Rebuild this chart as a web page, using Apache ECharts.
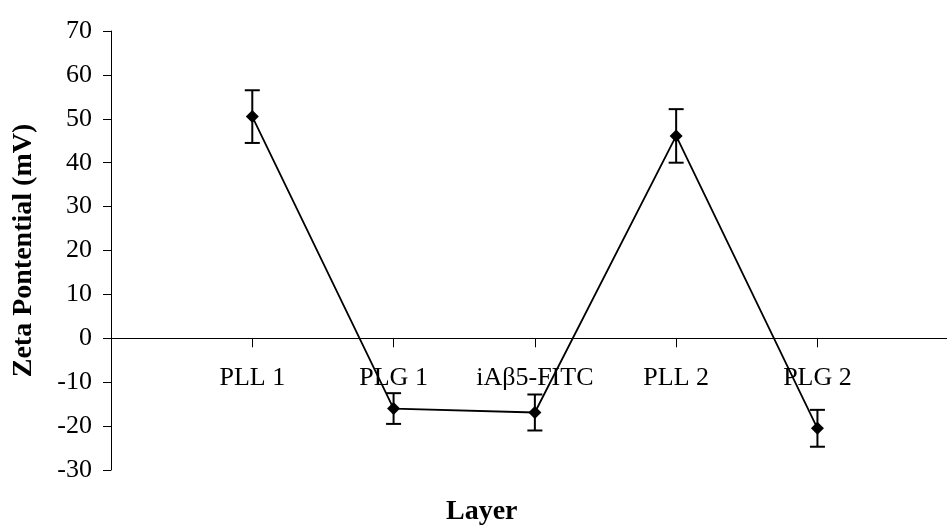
<!DOCTYPE html>
<html>
<head>
<meta charset="utf-8">
<script src="https://cdn.jsdelivr.net/npm/echarts@6/dist/echarts.min.js"></script>
<style>
  html, body { margin: 0; padding: 0; background: #fff; }
  #chart { width: 947px; height: 529px; }
</style>
</head>
<body>
<div id="chart"></div>
<script>
// Zeta potential after each deposited layer, with standard deviations
const layers = ['PLL 1', 'PLG 1', 'iAβ5-FITC', 'PLL 2', 'PLG 2'];
const zeta = [50.5, -16.0, -16.9, 46.1, -20.5];
const zetaErr = [6.0, 3.5, 4.1, 6.1, 4.2];
const yTicks = { min: -30, max: 70, step: 10 };

const FONT = '"Liberation Serif", "Times New Roman", serif';

// Grid geometry; the category axis runs along y = 0
const GRID = { left: 111, right: 0, top: 31, bottom: 59 };
const plotH = 529 - GRID.top - GRID.bottom;
const zeroOffset = -plotH * (0 - yTicks.min) / (yTicks.max - yTicks.min);

// Layers sit at positions 1..n on a numeric x scale
const points = layers.map((name, i) => [i + 1, zeta[i]]);
const errBars = layers.map((name, i) => [i + 1, zeta[i] - zetaErr[i], zeta[i] + zetaErr[i]]);
const layerPos = layers.map((name, i) => i + 1);

const chart = echarts.init(document.getElementById('chart'), null, { renderer: 'canvas' });

chart.setOption({
  animation: false,
  backgroundColor: '#ffffff',
  grid: GRID,
  xAxis: {
    type: 'value',
    min: 0,
    max: 5.917,
    interval: 1,
    offset: zeroOffset,
    splitLine: { show: false },
    axisLine: { onZero: false, lineStyle: { color: '#000', width: 1 } },
    axisTick: {
      show: true, length: 9, customValues: layerPos,
      lineStyle: { color: '#000', width: 1 }
    },
    axisLabel: {
      customValues: layerPos,
      margin: 27,
      color: '#000',
      fontFamily: FONT,
      fontSize: 26,
      formatter: v => layers[Math.round(v) - 1] || ''
    }
  },
  yAxis: {
    type: 'value',
    min: yTicks.min,
    max: yTicks.max,
    interval: yTicks.step,
    splitLine: { show: false },
    axisLine: { show: true, onZero: false, lineStyle: { color: '#000', width: 1 } },
    axisTick: { show: true, length: 8, lineStyle: { color: '#000', width: 1 } },
    axisLabel: { margin: 19, color: '#000', fontFamily: FONT, fontSize: 26 },
    name: 'Zeta Pontential (mV)',
    nameLocation: 'middle',
    nameGap: 73,
    nameTextStyle: { color: '#000', fontFamily: FONT, fontSize: 28, fontWeight: 'bold' }
  },
  graphic: [{
    type: 'text',
    left: 446,
    top: 498,
    style: { text: 'Layer', fill: '#000', font: 'bold 28px ' + FONT }
  }],
  series: [
    {
      type: 'custom',
      name: 'error',
      clip: false,
      z: 3,
      data: errBars,
      renderItem: function (params, api) {
        const x = api.value(0);
        const lo = api.coord([x, api.value(1)]);
        const hi = api.coord([x, api.value(2)]);
        const cap = 7.5;
        const style = { stroke: '#000', lineWidth: 2 };
        return {
          type: 'group',
          children: [
            { type: 'line', shape: { x1: lo[0], y1: lo[1], x2: hi[0], y2: hi[1] }, style },
            { type: 'line', shape: { x1: hi[0] - cap, y1: hi[1], x2: hi[0] + cap, y2: hi[1] }, style },
            { type: 'line', shape: { x1: lo[0] - cap, y1: lo[1], x2: lo[0] + cap, y2: lo[1] }, style }
          ]
        };
      }
    },
    {
      type: 'line',
      name: 'Zeta potential',
      data: points,
      z: 4,
      symbol: 'diamond',
      symbolSize: 13,
      lineStyle: { color: '#000', width: 1.8 },
      itemStyle: { color: '#000' }
    }
  ]
});
</script>
</body>
</html>
